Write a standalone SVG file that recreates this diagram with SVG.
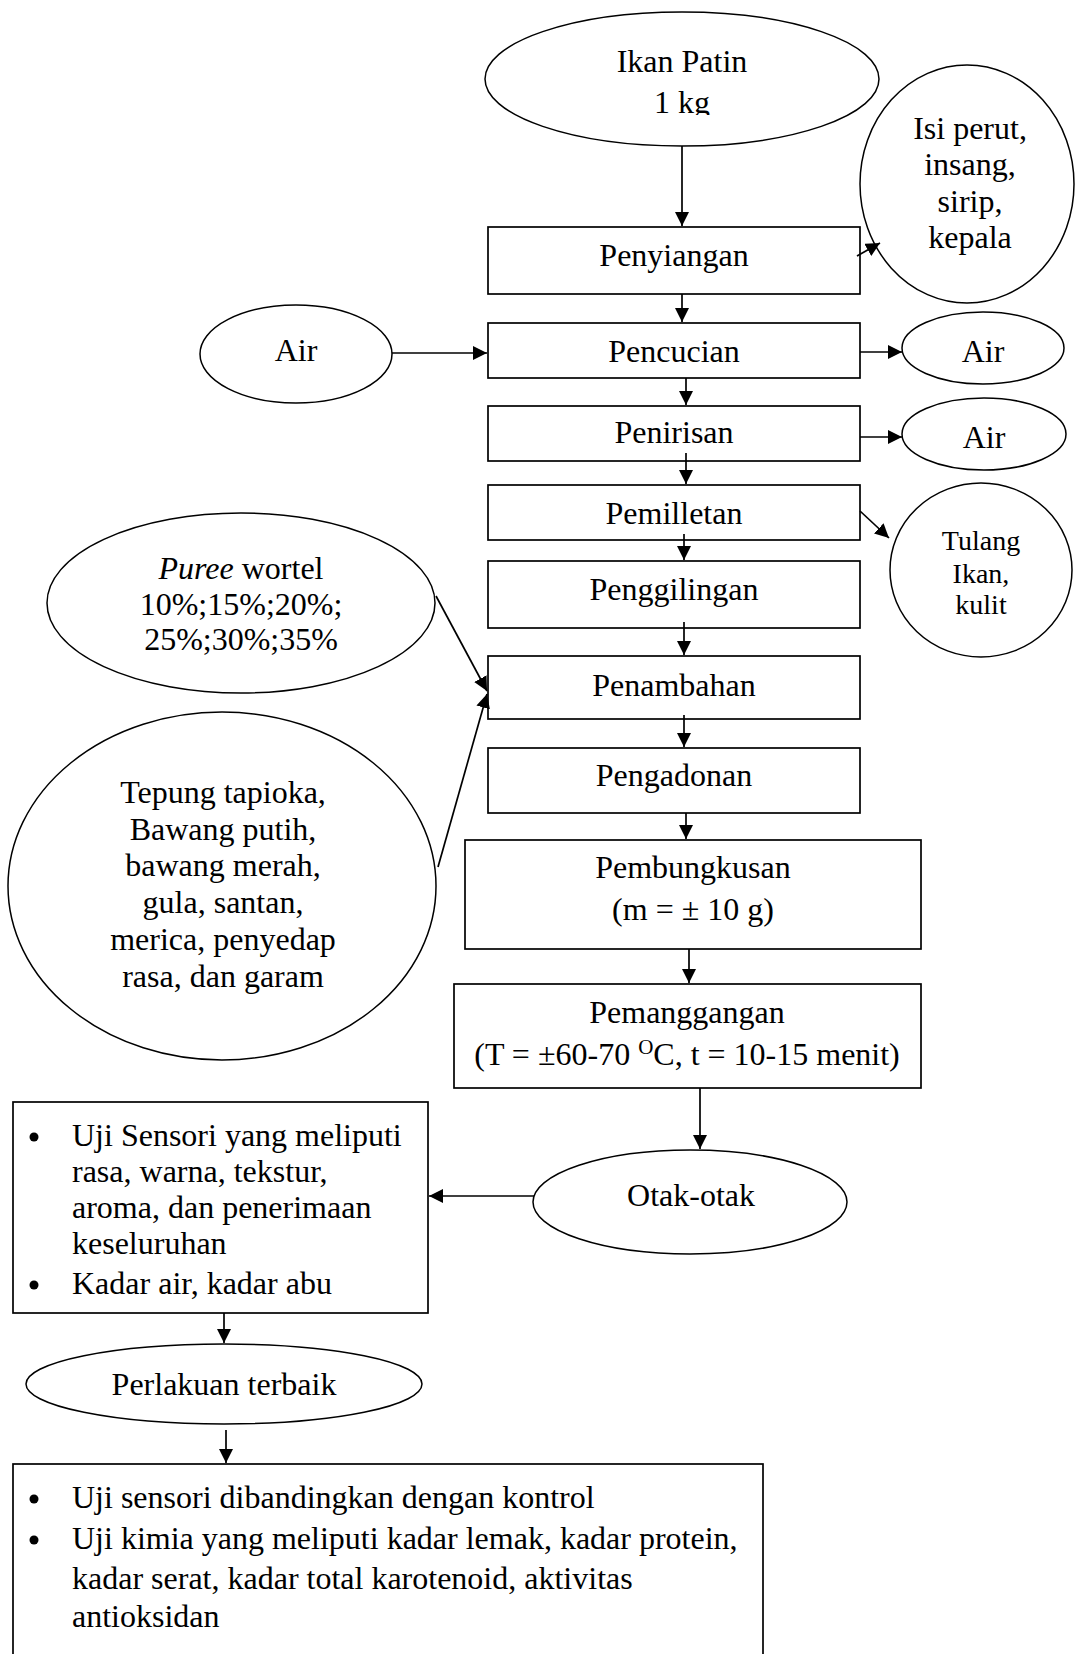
<svg xmlns="http://www.w3.org/2000/svg" width="1075" height="1654" viewBox="0 0 1075 1654">
<style>
.box{fill:#fff;stroke:#000;stroke-width:1.7}
.ell{fill:#fff;stroke:#000;stroke-width:1.5}
.t{font-family:"Liberation Serif","Times New Roman",serif;font-size:32px;fill:#000}
.c{text-anchor:middle}
.s{font-size:28px}
.conn line{stroke:#000;stroke-width:1.7;marker-end:url(#ah)}
.bul{fill:#000}
</style>
<defs>
<marker id="ah" markerUnits="userSpaceOnUse" markerWidth="14" markerHeight="14" refX="14" refY="7" orient="auto">
<path d="M0,0 L14,7 L0,14 z" fill="#000"/>
</marker>
<clipPath id="kgclip"><rect x="600" y="60" width="160" height="55"/></clipPath>
</defs>
<rect width="1075" height="1654" fill="#fff"/>
<g id="ikan"><ellipse class="ell" cx="682" cy="79" rx="197" ry="67"/><text class="t c" x="682" y="72">Ikan Patin</text><text class="t c" x="682" y="113" clip-path="url(#kgclip)">1 kg</text></g>
<g id="penyiangan"><rect class="box" x="488" y="227" width="372" height="67"/><text class="t c" x="674" y="266">Penyiangan</text></g>
<g id="isi"><ellipse class="ell" cx="967" cy="184" rx="107" ry="119"/><text class="t c" x="970" y="139">Isi perut,</text><text class="t c" x="970" y="175">insang,</text><text class="t c" x="970" y="212">sirip,</text><text class="t c" x="970" y="248">kepala</text></g>
<g id="pencucian"><rect class="box" x="488" y="323" width="372" height="55"/><text class="t c" x="674" y="362">Pencucian</text></g>
<g id="air-in"><ellipse class="ell" cx="296" cy="354" rx="96" ry="49"/><text class="t c" x="296" y="361">Air</text></g>
<g id="air-out1"><ellipse class="ell" cx="983" cy="348" rx="81" ry="36"/><text class="t c" x="983" y="362">Air</text></g>
<g id="penirisan"><rect class="box" x="488" y="406" width="372" height="55"/><text class="t c" x="674" y="443">Penirisan</text></g>
<g id="air-out2"><ellipse class="ell" cx="984" cy="434" rx="82" ry="36"/><text class="t c" x="984" y="448">Air</text></g>
<g id="pemilletan"><rect class="box" x="488" y="485" width="372" height="55"/><text class="t c" x="674" y="524">Pemilletan</text></g>
<g id="tulang"><ellipse class="ell" cx="981" cy="570" rx="91" ry="87"/><text class="t s c" x="981" y="550">Tulang</text><text class="t s c" x="981" y="583">Ikan,</text><text class="t s c" x="981" y="614">kulit</text></g>
<g id="penggilingan"><rect class="box" x="488" y="561" width="372" height="67"/><text class="t c" x="674" y="600">Penggilingan</text></g>
<g id="penambahan"><rect class="box" x="488" y="656" width="372" height="63"/><text class="t c" x="674" y="696">Penambahan</text></g>
<g id="puree"><ellipse class="ell" cx="241" cy="603" rx="194" ry="90"/><text class="t c" x="241" y="579"><tspan font-style="italic">Puree</tspan> wortel</text><text class="t c" x="241" y="615">10%;15%;20%;</text><text class="t c" x="241" y="650">25%;30%;35%</text></g>
<g id="tepung"><ellipse class="ell" cx="222" cy="886" rx="214" ry="174"/><text class="t c" x="223" y="803">Tepung tapioka,</text><text class="t c" x="223" y="840">Bawang putih,</text><text class="t c" x="223" y="876">bawang merah,</text><text class="t c" x="223" y="913">gula, santan,</text><text class="t c" x="223" y="950">merica, penyedap</text><text class="t c" x="223" y="987">rasa, dan garam</text></g>
<g id="pengadonan"><rect class="box" x="488" y="748" width="372" height="65"/><text class="t c" x="674" y="786">Pengadonan</text></g>
<g id="pembungkusan"><rect class="box" x="465" y="840" width="456" height="109"/><text class="t c" x="693" y="878">Pembungkusan</text><text class="t c" x="693" y="920">(m = ± 10 g)</text></g>
<g id="pemanggangan"><rect class="box" x="454" y="984" width="467" height="104"/><text class="t c" x="687" y="1023">Pemanggangan</text><text class="t c" x="687" y="1065">(T = ±60-70 <tspan font-size="21" dy="-11">O</tspan><tspan dy="11">C, t = 10-15 menit)</tspan></text></g>
<g id="otak"><ellipse class="ell" cx="690" cy="1202" rx="157" ry="52"/><text class="t c" x="691" y="1206">Otak-otak</text></g>
<g id="uji1"><rect class="box" x="13" y="1102" width="415" height="211"/>
<circle class="bul" cx="34" cy="1137" r="4.5"/><circle class="bul" cx="34" cy="1285" r="4.5"/>
<text class="t" x="72" y="1146">Uji Sensori yang meliputi</text><text class="t" x="72" y="1182">rasa, warna, tekstur,</text><text class="t" x="72" y="1218">aroma, dan penerimaan</text><text class="t" x="72" y="1254">keseluruhan</text><text class="t" x="72" y="1294">Kadar air, kadar abu</text></g>
<g id="perlakuan"><ellipse class="ell" cx="224" cy="1384" rx="198" ry="40"/><text class="t c" x="224" y="1395">Perlakuan terbaik</text></g>
<g id="uji2"><rect class="box" x="13" y="1464" width="750" height="200"/>
<circle class="bul" cx="34" cy="1499" r="4.5"/><circle class="bul" cx="34" cy="1540" r="4.5"/>
<text class="t" x="72" y="1508">Uji sensori dibandingkan dengan kontrol</text><text class="t" x="72" y="1549">Uji kimia yang meliputi kadar lemak, kadar protein,</text><text class="t" x="72" y="1589">kadar serat, kadar total karotenoid, aktivitas</text><text class="t" x="72" y="1627">antioksidan</text></g>
<g id="connectors" class="conn">
<line x1="682" y1="146" x2="682" y2="226"/>
<line x1="857" y1="256" x2="880" y2="243"/>
<line x1="682" y1="294" x2="682" y2="322"/>
<line x1="392" y1="353" x2="487" y2="353"/>
<line x1="860" y1="352" x2="902" y2="352"/>
<line x1="686" y1="378" x2="686" y2="405"/>
<line x1="860" y1="437" x2="902" y2="437"/>
<line x1="686" y1="453" x2="686" y2="484"/>
<line x1="860" y1="511" x2="889" y2="538"/>
<line x1="684" y1="534" x2="684" y2="560"/>
<line x1="684" y1="622" x2="684" y2="655"/>
<line x1="436" y1="596" x2="487" y2="691"/>
<line x1="438" y1="867" x2="487" y2="694"/>
<line x1="684" y1="715" x2="684" y2="747"/>
<line x1="686" y1="813" x2="686" y2="839"/>
<line x1="689" y1="949" x2="689" y2="983"/>
<line x1="700" y1="1088" x2="700" y2="1149"/>
<line x1="534" y1="1196" x2="429" y2="1196"/>
<line x1="224" y1="1313" x2="224" y2="1343"/>
<line x1="226" y1="1430" x2="226" y2="1463"/>
</g>
</svg>
